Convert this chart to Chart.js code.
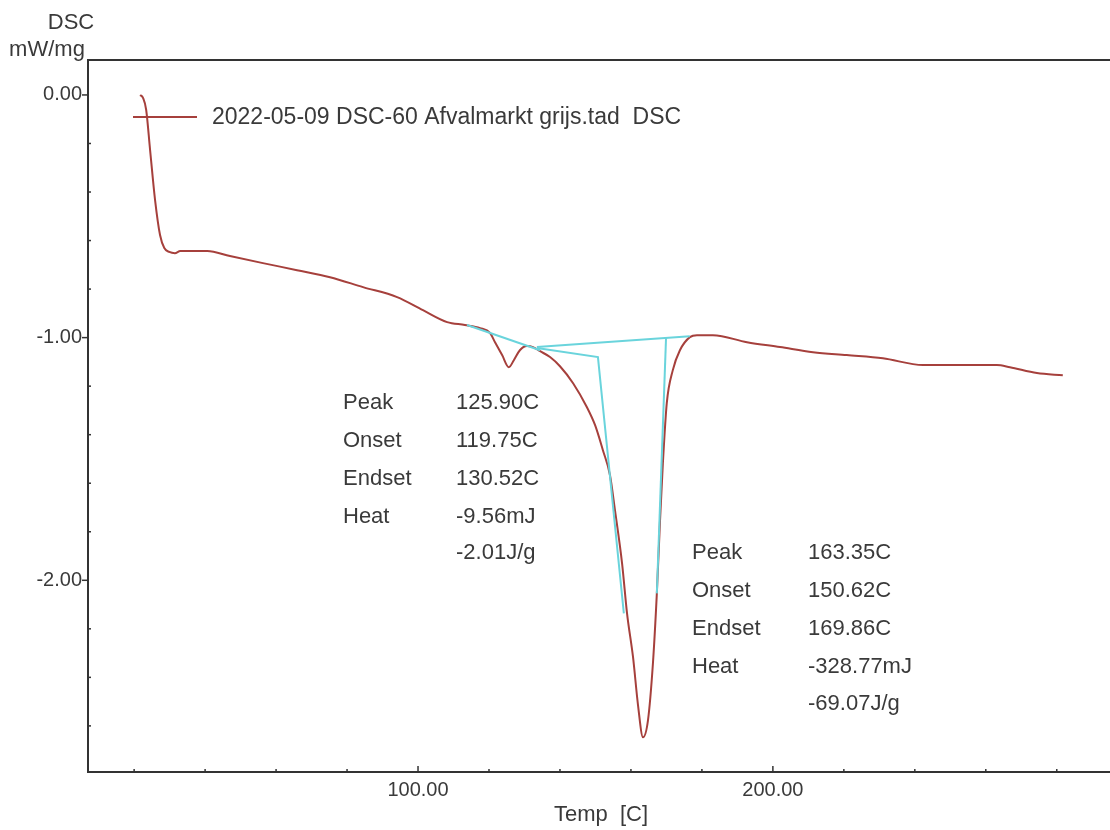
<!DOCTYPE html>
<html>
<head>
<meta charset="utf-8">
<script src="https://cdn.jsdelivr.net/npm/chart.js@4/dist/chart.umd.min.js"></script>
<style>
  html, body { margin: 0; padding: 0; background: #ffffff; }
  #wrap { width: 1110px; height: 830px; position: relative; }
</style>
</head>
<body>
<div id="wrap"><canvas id="c" width="1110" height="830"></canvas></div>
<script>
// ---- Data ----
const tempC = [21.7, 22.5, 23.4, 24.5, 25.9, 27.3, 28.5, 29.9, 31.5, 33.0, 40.6, 47.0, 56.3, 65.9, 75.2, 84.5, 94.1, 101.4, 108.2, 113.2, 117.5, 120.3, 121.7, 123.7, 125.6, 127.0, 128.7, 130.7, 132.4, 134.4, 137.2, 140.0, 143.7, 147.6, 149.9, 152.1, 154.1, 155.5, 157.5, 158.9, 160.6, 162.0, 163.4, 164.8, 166.2, 167.3, 168.2, 169.0, 170.1, 171.8, 173.8, 176.6, 178.6, 183.1, 192.7, 202.0, 211.3, 220.8, 231.0, 242.3, 263.1, 266.8, 274.4, 281.7];
const dscMWmg = [0.000, -0.012, -0.062, -0.227, -0.433, -0.577, -0.631, -0.647, -0.652, -0.643, -0.643, -0.664, -0.693, -0.722, -0.751, -0.792, -0.833, -0.887, -0.936, -0.948, -0.961, -0.981, -1.019, -1.072, -1.122, -1.093, -1.052, -1.035, -1.039, -1.056, -1.080, -1.118, -1.188, -1.287, -1.361, -1.464, -1.567, -1.711, -1.930, -2.136, -2.318, -2.515, -2.647, -2.577, -2.342, -2.054, -1.753, -1.518, -1.270, -1.134, -1.052, -0.998, -0.990, -0.990, -1.019, -1.039, -1.060, -1.072, -1.085, -1.113, -1.113, -1.122, -1.146, -1.155];

// analysis construction lines (baselines and tangents)
const baseline1T = [113.8, 134.4];
const baseline1V = [-0.948, -1.052];
const baseline2T = [133.5, 176.6];
const baseline2V = [-1.039, -0.994];
const tangentLeftT = [133.5, 150.7, 158.0];
const tangentLeftV = [-1.043, -1.080, -2.136];
const tangentRightT = [169.9, 167.3];
const tangentRightV = [-0.998, -2.054];

// axis ticks
const xMajorTicks = [100, 200];
const xMinorTicks = [20, 40, 60, 80, 120, 140, 160, 180, 220, 240, 260, 280];
const yMajorTicks = [0, -1, -2];
const yMinorTicks = [-0.2, -0.4, -0.6, -0.8, -1.2, -1.4, -1.6, -1.8, -2.2, -2.4, -2.6];

// texts
const legendText = '2022-05-09 DSC-60 Afvalmarkt grijs.tad  DSC';
const yTitle = ['DSC', 'mW/mg'];
const xTitle = 'Temp  [C]';
const peak1Labels = ['Peak', 'Onset', 'Endset', 'Heat', ''];
const peak1Values = ['125.90C', '119.75C', '130.52C', '-9.56mJ', '-2.01J/g'];
const peak2Labels = ['Peak', 'Onset', 'Endset', 'Heat', ''];
const peak2Values = ['163.35C', '150.62C', '169.86C', '-328.77mJ', '-69.07J/g'];

// ---- build ----
const zip = (a, b) => a.map((x, i) => ({x: x, y: b[i]}));
const RED = '#a6403c';
const CYAN = '#6ad4dc';
const TXT = '#3a3a3a';
const FONT = '"Liberation Sans", Arial, sans-serif';

const cyanLine = (t, v) => ({
  data: zip(t, v), showLine: true, borderColor: CYAN, borderWidth: 2,
  pointRadius: 0, tension: 0, order: 0, fill: false
});

const decor = {
  id: 'decor',
  afterDraw(chart) {
    const ctx = chart.ctx;
    const xs = chart.scales.x, ys = chart.scales.y;
    const ca = chart.chartArea;
    ctx.save();
    // top frame line
    ctx.strokeStyle = '#333'; ctx.lineWidth = 2;
    ctx.beginPath(); ctx.moveTo(ca.left - 1, ca.top); ctx.lineTo(ca.right, ca.top); ctx.stroke();
    // ticks
    ctx.lineWidth = 1.5; ctx.strokeStyle = '#333';
    yMajorTicks.forEach(v => { const p = ys.getPixelForValue(v); ctx.beginPath(); ctx.moveTo(ca.left - 6, p); ctx.lineTo(ca.left, p); ctx.stroke(); });
    yMinorTicks.forEach(v => { const p = ys.getPixelForValue(v); ctx.beginPath(); ctx.moveTo(ca.left, p); ctx.lineTo(ca.left + 3, p); ctx.stroke(); });
    xMajorTicks.forEach(v => { const p = xs.getPixelForValue(v); ctx.beginPath(); ctx.moveTo(p, ca.bottom); ctx.lineTo(p, ca.bottom - 6); ctx.stroke(); });
    xMinorTicks.forEach(v => { const p = xs.getPixelForValue(v); ctx.beginPath(); ctx.moveTo(p, ca.bottom); ctx.lineTo(p, ca.bottom - 3); ctx.stroke(); });
    // axis titles
    ctx.fillStyle = TXT; ctx.textAlign = 'center'; ctx.textBaseline = 'middle';
    ctx.font = '22px ' + FONT;
    ctx.fillText(yTitle[0], 71, 23);
    ctx.fillText(yTitle[1], 47, 50);
    ctx.fillText(xTitle, 601, 815);
    // legend
    ctx.strokeStyle = RED; ctx.lineWidth = 2;
    ctx.beginPath(); ctx.moveTo(133, 117); ctx.lineTo(197, 117); ctx.stroke();
    ctx.fillStyle = TXT; ctx.textAlign = 'left';
    ctx.font = '23px ' + FONT;
    ctx.fillText(legendText, 212, 118);
    // peak annotations
    ctx.font = '22px ' + FONT;
    const rows1 = [403, 441, 479, 517, 553];
    peak1Labels.forEach((s, i) => ctx.fillText(s, 343, rows1[i]));
    peak1Values.forEach((s, i) => ctx.fillText(s, 456, rows1[i]));
    const rows2 = [553, 591, 629, 667, 704];
    peak2Labels.forEach((s, i) => ctx.fillText(s, 692, rows2[i]));
    peak2Values.forEach((s, i) => ctx.fillText(s, 808, rows2[i]));
    ctx.restore();
  }
};

new Chart(document.getElementById('c'), {
  type: 'scatter',
  data: {
    datasets: [
      { data: zip(tempC, dscMWmg), showLine: true, borderColor: RED, borderWidth: 2,
        pointRadius: 0, cubicInterpolationMode: 'monotone', order: 1, fill: false },
      cyanLine(baseline1T, baseline1V),
      cyanLine(baseline2T, baseline2V),
      cyanLine(tangentLeftT, tangentLeftV),
      cyanLine(tangentRightT, tangentRightV)
    ]
  },
  options: {
    responsive: false,
    devicePixelRatio: 1,
    animation: false,
    layout: { padding: { top: 60, right: 0, left: 0, bottom: 0 } },
    plugins: { legend: { display: false }, tooltip: { enabled: false } },
    scales: {
      x: {
        type: 'linear', min: 7, max: 295,
        afterBuildTicks: s => { s.ticks = xMajorTicks.map(v => ({value: v})); },
        afterFit: s => { s.height = 58; },
        grid: { display: false, drawTicks: false, tickLength: 0 },
        border: { display: true, color: '#333', width: 2 },
        ticks: { padding: 6, color: TXT, font: { family: FONT, size: 20 },
                 maxRotation: 0, autoSkip: false,
                 callback: v => Number(v).toFixed(2) }
      },
      y: {
        type: 'linear', min: -2.79, max: 0.144,
        afterBuildTicks: s => { s.ticks = yMajorTicks.map(v => ({value: v})); },
        afterFit: s => { s.width = 88; },
        grid: { display: false, drawTicks: false, tickLength: 0 },
        border: { display: true, color: '#333', width: 2 },
        ticks: { padding: 6, color: TXT, font: { family: FONT, size: 20 },
                 autoSkip: false,
                 callback: v => Number(v).toFixed(2) }
      }
    }
  },
  plugins: [decor]
});
</script>
</body>
</html>
